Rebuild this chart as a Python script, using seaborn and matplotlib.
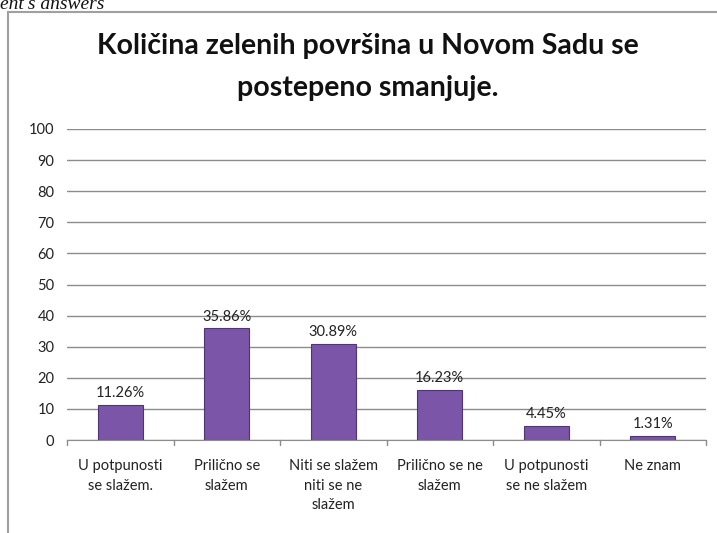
import matplotlib.pyplot as plt
import seaborn as sns
import pandas as pd
from matplotlib.patches import Rectangle

categories = ["U potpunosti\nse slažem.", "Prilično se\nslažem", "Niti se slažem\nniti se ne\nslažem",
              "Prilično se ne\nslažem", "U potpunosti\nse ne slažem", "Ne znam"]
values = [11.26, 35.86, 30.89, 16.23, 4.45, 1.31]
value_labels = ["11.26%", "35.86%", "30.89%", "16.23%", "4.45%", "1.31%"]
yticks = list(range(0, 101, 10))
title = "Količina zelenih površina u Novom Sadu se\npostepeno smanjuje."

df = pd.DataFrame({"odgovor": categories, "procenat": values})

sns.set_style("white")
plt.rcParams['font.family'] = ['Lato', 'DejaVu Sans']

fig = plt.figure(figsize=(7.17, 5.33), dpi=100)
ax = fig.add_axes([67 / 717, 1 - 440 / 533, 639 / 717, 311 / 533])

sns.barplot(data=df, x="odgovor", y="procenat", color="#7a55a8", width=0.42,
            edgecolor="#4f3575", linewidth=0.8, saturation=1, ax=ax)

for i, (v, lab) in enumerate(zip(values, value_labels)):
    ax.text(i, v + 1.5, lab, ha="center", va="bottom", fontsize=10.5, color="#222222")

ax.set_ylim(0, 100)
ax.set_xlim(-0.5, len(categories) - 0.5)
ax.set_yticks(yticks)
ax.yaxis.grid(True, color="#8c8c8c", linewidth=1)
ax.set_axisbelow(True)
ax.set_xlabel("")
ax.set_ylabel("")
ax.tick_params(axis="y", labelsize=10.5, length=0, pad=9, colors="#222222")
ax.tick_params(axis="x", labelsize=10.5, length=0, pad=14, colors="#222222")
for t in ax.get_xticklabels():
    t.set_linespacing(1.5)
for s in ["top", "right", "left"]:
    ax.spines[s].set_visible(False)
ax.spines["bottom"].set_color("#8c8c8c")
# small tick marks between categories
for k in range(len(categories) + 1):
    ax.plot([k - 0.5, k - 0.5], [0, -1.6], color="#8c8c8c", lw=1, clip_on=False)

fig.text(368 / 717, 1 - 67 / 533, title, ha="center", va="center", fontsize=20.5,
         fontweight="bold", linespacing=1.75, color="#111111")

# chart frame and caption fragment from the document
fig.patches.append(Rectangle((8 / 717, -0.05), 1.1, 1 - 12 / 533 + 0.05, transform=fig.transFigure,
                             fill=False, edgecolor="#a0a0a0", lw=1.5))
fig.text(0.0, 1 - 9 / 533, "ent's answers", ha="left", va="baseline", fontsize=14,
         family="Liberation Serif", style="italic", color="#111111")

fig.savefig("out.png", dpi=100)
